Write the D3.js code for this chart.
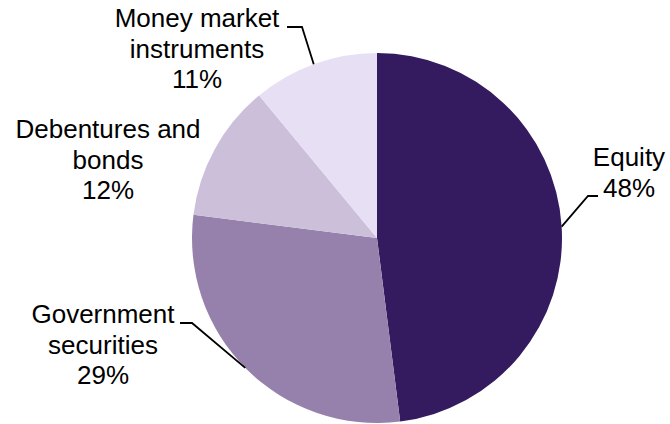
<!DOCTYPE html>
<html>
<head>
<meta charset="utf-8">
<script src="https://cdn.jsdelivr.net/npm/d3@7"></script>
<style>
  html, body { margin: 0; padding: 0; background: #fff; }
  svg { display: block; }
  text { font-family: Arial, "Liberation Sans", Helvetica, sans-serif; fill: #000; }
</style>
</head>
<body>
<svg id="chart" width="670" height="424"></svg>
<script>
const categories = ["Equity", "Government securities", "Debentures and bonds", "Money market instruments"];
const values = [48, 29, 12, 11];
const colors = ["#341a5f", "#9681ad", "#cbbfd9", "#e7e0f5"];
const labelLines = [
  ["Equity", "48%"],
  ["Government", "securities", "29%"],
  ["Debentures and", "bonds", "12%"],
  ["Money market", "instruments", "11%"]
];

const W = 670, H = 424;
const cx = 377, cy = 238, R = 185;
const fontSize = 26, lineH = 30.5;

const labelPos = [
  { x: 629, y: 166 },
  { x: 103, y: 323 },
  { x: 108, y: 138 },
  { x: 197, y: 27 }
];
const leaders = [
  { pts: [[598, 196], [588, 196]], edgeAngleDeg: 86.5 },
  { pts: [[180, 323], [192, 323]], edgeAngleDeg: 225.4 },
  null,
  { pts: [[287, 27], [302, 27]], edgeAngleDeg: 340 }
];

const svg = d3.select("#chart");
const g = svg.append("g").attr("transform", `translate(${cx},${cy})`);

const data = categories.map((c, i) => ({ name: c, value: values[i], color: colors[i], lines: labelLines[i] }));

const pie = d3.pie().value(d => d.value).sort(null).startAngle(0).endAngle(2 * Math.PI);
const arc = d3.arc().innerRadius(0).outerRadius(R);

g.selectAll("path.slice")
  .data(pie(data))
  .join("path")
  .attr("class", "slice")
  .attr("d", arc)
  .attr("fill", d => d.data.color)
  .attr("stroke", "none");

leaders.forEach((l, i) => {
  if (!l) return;
  const a = l.edgeAngleDeg * Math.PI / 180;
  const ex = cx + R * Math.sin(a), ey = cy - R * Math.cos(a);
  const pts = l.pts.concat([[ex, ey]]);
  svg.append("path")
    .attr("d", d3.line()(pts))
    .attr("fill", "none")
    .attr("stroke", "#000")
    .attr("stroke-width", 1.8);
});

data.forEach((d, i) => {
  const t = svg.append("text")
    .attr("text-anchor", "middle")
    .attr("font-size", fontSize);
  d.lines.forEach((ln, j) => {
    t.append("tspan")
      .attr("x", labelPos[i].x)
      .attr("y", labelPos[i].y + j * lineH)
      .text(ln);
  });
});
</script>
</body>
</html>
